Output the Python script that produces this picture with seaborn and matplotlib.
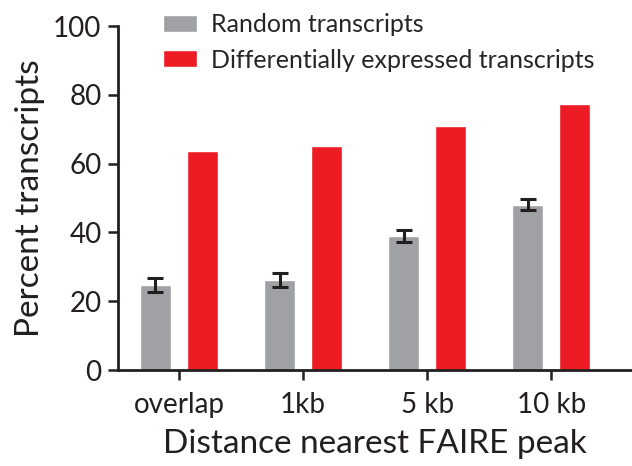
import pandas as pd
import matplotlib.pyplot as plt
import seaborn as sns

# Datos
categorias = ['overlap', '1kb', '5 kb', '10 kb']
series = ['Random transcripts', 'Differentially expressed transcripts']
random_vals = [24.8, 26.2, 39.0, 48.0]
random_err = [2.0, 2.0, 1.7, 1.6]
de_vals = [63.7, 65.2, 70.9, 77.3]
y_ticks = [0, 20, 40, 60, 80, 100]

gris = '#a0a1a5'
rojo = '#ed1c24'
oscuro = '#231f20'

df = pd.DataFrame({
    'Distancia': categorias * 2,
    'Porcentaje': random_vals + de_vals,
    'Grupo': [series[0]] * 4 + [series[1]] * 4,
})

sns.set_style('ticks')
plt.rcParams['font.family'] = ['Lato', 'DejaVu Sans']

fig = plt.figure(figsize=(6.32, 4.66), dpi=100)
ax = fig.add_axes([0.187, 0.206, 0.813, 0.738])

sns.barplot(data=df, x='Distancia', y='Porcentaje', hue='Grupo',
            palette=[gris, rojo], width=0.758, gap=0.34, saturation=1,
            errorbar=None, ax=ax)

# Barras de error para los transcritos aleatorios
xs = [b.get_x() + b.get_width() / 2 for b in ax.containers[0]]
ax.errorbar(xs, random_vals, yerr=random_err, fmt='none', ecolor=oscuro,
            elinewidth=2.2, capsize=6, capthick=2.2)

ax.set_ylim(0, 100)
ax.set_yticks(y_ticks)
ax.set_xlim(-0.49, 3.65)
ax.set_xlabel('Distance nearest FAIRE peak', fontsize=24, color=oscuro, labelpad=8)
ax.set_ylabel('Percent transcripts', fontsize=24, color=oscuro, labelpad=6)
ax.tick_params(axis='both', labelsize=20, colors=oscuro, length=7, width=1.8, pad=5)
ax.tick_params(axis='x', pad=9)

sns.despine(ax=ax)
for s in ['left', 'bottom']:
    ax.spines[s].set_linewidth(2)
    ax.spines[s].set_color(oscuro)

handles, labels = ax.get_legend_handles_labels()
ax.legend(handles, labels, frameon=False, loc='upper left',
          bbox_to_anchor=(0.258, 0.972), bbox_transform=fig.transFigure,
          fontsize=18, handlelength=1.36, handleheight=0.68, handletextpad=0.55,
          labelspacing=0.5, borderaxespad=0, borderpad=0)

fig.savefig('out.png', dpi=100)
